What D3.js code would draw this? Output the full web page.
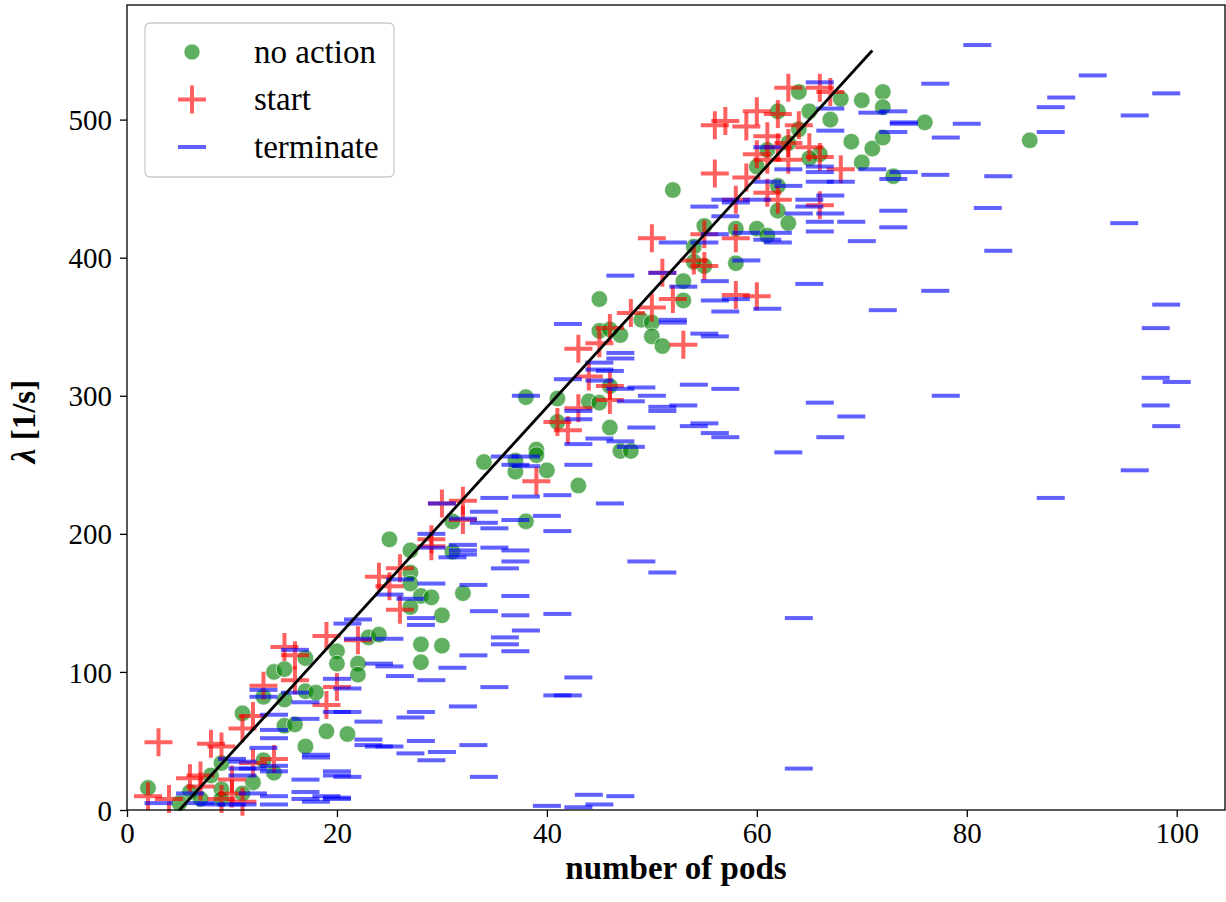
<!DOCTYPE html>
<html>
<head>
<meta charset="utf-8">
<script src="https://cdn.jsdelivr.net/npm/d3@7"></script>
<style>
  body { margin: 0; background: #fff; }
  text { font-family: "Liberation Serif", "Times New Roman", serif; }
</style>
</head>
<body>
<div id="chart"></div>
<script>
// points: [number of pods, lambda]
var noAction = [
    [2,16],[11,70],[14,100],[15,102],[17,110],[20,115],[20,106],[13,82],[15,80],[17,86],[18,85],
    [15,61],[16,62],[19,57],[17,46],[13,36],[14,27],[8,25],[9,34],[12,20],[9,15],[11,12],[6,13],
    [5,5],[7,8],[9,8],[22,106],[22,98],[28,120],[28,107],[30,119],[23,125],[24,127],[21,55],
    [25,196],[27,188],[27,172],[27,164],[28,155],[27,147],[37,245],[40,246],[43,235],[31,209],
    [38,209],[31,187],[29,154],[32,157],[30,141],[45,370],[45,347],[46,348],[47,344],[49,355],
    [50,353],[50,343],[51,336],[46,307],[44,296],[45,295],[41,298],[38,299],[41,281],[46,277],
    [47,260],[48,260],[39,261],[39,257],[34,252],[37,253],[53,383],[53,369],[55,394],[58,396],
    [52,449],[55,423],[58,421],[60,421],[61,416],[54,408],[54,397],[60,466],[62,434],[64,520],
    [68,515],[70,514],[72,520],[72,509],[67,500],[65,506],[62,506],[64,493],[69,484],[71,479],
    [70,469],[73,459],[66,475],[65,472],[63,483],[61,478],[62,452],[63,425],[76,498],[72,487],
    [86,485]
];
var start = [
    [3,49],[2,10],[4,8],[15,118],[16,112],[13,90],[16,94],[19,76],[20,89],[12,68],[11,59],[8,48],
    [9,46],[14,37],[12,34],[7,25],[6,23],[7,17],[10,22],[10,12],[9,8],[11,6],[24,169],[26,175],
    [25,162],[26,145],[19,126],[22,123],[39,238],[30,222],[32,224],[32,210],[29,196],[29,191],
    [48,360],[50,364],[46,349],[43,334],[45,338],[44,314],[46,307],[46,297],[43,291],[41,281],
    [42,275],[58,373],[60,372],[53,337],[52,370],[56,461],[59,458],[58,442],[61,447],[50,414],
    [55,417],[58,414],[54,398],[55,394],[51,389],[63,523],[66,523],[67,520],[56,496],[57,499],
    [59,495],[60,506],[62,504],[64,496],[61,488],[63,483],[62,480],[60,475],[61,471],[63,471],
    [65,480],[66,473],[68,464],[62,442],[66,438]
];
var terminate = [
    [16,116],[20,95],[13,87],[13,82],[16,85],[17,78],[20,71],[17,66],[14,69],[14,58],[14,52],
    [13,45],[18,40],[18,38],[20,28],[17,22],[20,25],[10,37],[11,35],[11,30],[12,30],[11,25],
    [14,32],[14,28],[12,12],[14,10],[17,13],[17,8],[19,10],[20,8],[3,5],[6,12],[7,5],[8,4],
    [10,4],[11,4],[14,4],[18,6],[36,120],[37,115],[33,112],[24,106],[25,104],[31,103],[26,97],
    [29,94],[35,89],[21,88],[41,83],[32,75],[28,71],[27,67],[21,71],[23,64],[23,51],[23,47],
    [24,46],[25,46],[28,50],[33,47],[27,41],[30,42],[29,36],[21,24],[34,24],[20,9],[40,3],
    [43,96],[42,83],[64,30],[44,11],[47,10],[45,4],[43,2],[22,138],[21,135],[25,156],[25,124],
    [26,167],[27,153],[22,124],[35,226],[38,227],[41,228],[46,222],[30,222],[34,216],[40,213],
    [32,211],[34,208],[37,210],[35,204],[41,202],[29,200],[29,190],[32,192],[32,188],[32,185],
    [31,183],[35,190],[37,188],[37,180],[36,175],[29,164],[33,163],[37,155],[34,144],[37,141],
    [41,142],[38,130],[36,125],[28,139],[28,134],[49,180],[51,172],[64,139],[42,352],[47,331],
    [47,327],[45,324],[45,319],[46,318],[42,312],[45,311],[47,305],[49,306],[50,300],[38,300],
    [48,296],[43,289],[43,283],[51,292],[51,289],[49,277],[47,267],[48,263],[43,265],[45,269],
    [36,256],[38,256],[38,249],[43,250],[37,250],[56,383],[65,381],[56,369],[58,370],[57,361],
    [61,363],[72,362],[52,355],[52,353],[55,345],[56,343],[54,308],[57,305],[53,293],[54,278],
    [55,280],[56,273],[57,270],[66,295],[69,285],[67,270],[63,259],[57,442],[58,440],[55,437],
    [57,430],[61,455],[61,413],[52,411],[55,411],[59,398],[51,389],[47,387],[53,379],[66,527],
    [67,508],[67,492],[61,480],[71,505],[73,506],[74,498],[73,491],[71,464],[74,462],[63,464],
    [66,466],[66,462],[63,452],[66,455],[68,455],[67,445],[65,442],[65,437],[60,442],[64,432],
    [67,432],[66,426],[69,426],[66,419],[70,412],[73,434],[73,422],[62,418],[62,411],[59,418],
    [56,417],[81,554],[92,532],[77,526],[99,519],[89,516],[88,509],[96,503],[80,497],[78,487],
    [88,491],[74,497],[73,457],[77,460],[83,459],[82,436],[95,425],[83,405],[77,376],[99,366],
    [98,349],[98,313],[100,310],[98,293],[99,278],[78,300],[88,226],[96,246]
];
// fitted line, two ends
var fitLine = [[5,0],[71,550]];

var xTicks = [0, 20, 40, 60, 80, 100];
var yTicks = [0, 100, 200, 300, 400, 500];
var legendItems = ["no action", "start", "terminate"];

// set the dimensions and margins of the graph
var margin = {top: 5, right: 1, bottom: 92, left: 127};
var width = 1226 - margin.left - margin.right;
var height = 902 - margin.top - margin.bottom;

var svg = d3.select("#chart")
    .append("svg")
    .attr("width", 1226)
    .attr("height", 902)
    .append("g")
    .attr("transform", "translate(" + margin.left + "," + margin.top + ")");

const x = d3.scaleLinear()
    .domain([0, 104.6])
    .range([0, width]);

const y = d3.scaleLinear()
    .domain([0, 583])
    .range([height, 0]);

// markers
svg.append("g").selectAll("circle")
    .data(noAction)
    .enter()
    .append("circle")
    .attr("cx", function(d) { return x(d[0]); })
    .attr("cy", function(d) { return y(d[1]); })
    .attr("r", 8.3)
    .attr("fill", "green")
    .attr("fill-opacity", 0.62)
    .attr("stroke", "#fff")
    .attr("stroke-opacity", 0.62)
    .attr("stroke-width", 1)

svg.append("g").selectAll("path")
    .data(start)
    .enter()
    .append("path")
    .attr("transform", function(d) { return "translate(" + x(d[0]) + "," + y(d[1]) + ")"; })
    .attr("d", "M-14,0H14M0,-14V14")
    .attr("stroke", "red")
    .attr("stroke-width", 4)
    .attr("opacity", 0.62)

svg.append("g").selectAll("rect")
    .data(terminate)
    .enter()
    .append("rect")
    .attr("x", function(d) { return x(d[0]) - 14; })
    .attr("y", function(d) { return y(d[1]) - 2; })
    .attr("width", 28)
    .attr("height", 4)
    .attr("fill", "blue")
    .attr("opacity", 0.62)

// fit line
var lineGenerator = d3.line()
    .x(function(d) { return x(d[0]); })
    .y(function(d) { return y(d[1]); })

svg.append("path")
    .attr("d", lineGenerator(fitLine))
    .attr("fill", "none")
    .attr("stroke", "black")
    .attr("stroke-width", 2.8)

// axes
var xAxis = svg.append("g")
    .attr("transform", "translate(0," + height + ")")
    .call(d3.axisBottom(x).tickValues(xTicks).tickSize(7).tickPadding(5));
var yAxis = svg.append("g")
    .call(d3.axisLeft(y).tickValues(yTicks).tickSize(7).tickPadding(8));
[xAxis, yAxis].forEach(function(a) {
    a.selectAll("text").attr("font-size", 29).attr("fill", "#000")
        .attr("font-family", "Liberation Serif, serif");
    a.selectAll("line").attr("stroke-width", 1.3);
    a.select(".domain").remove();
});
xAxis.selectAll("text").attr("dy", "0.72em");
yAxis.selectAll("text").attr("dy", "0.35em");

// frame
svg.append("rect")
    .attr("width", width)
    .attr("height", height)
    .attr("fill", "none")
    .attr("stroke", "#000")
    .attr("stroke-width", 1.3)

// axis labels
svg.append("text")
    .attr("x", width / 2)
    .attr("y", height + 69)
    .attr("text-anchor", "middle")
    .attr("font-weight", "bold")
    .attr("font-size", 33)
    .text("number of pods")

var yLabel = svg.append("text")
    .attr("transform", "translate(" + (-92) + "," + (height / 2 + 14) + ") rotate(-90)")
    .attr("text-anchor", "middle")
    .attr("font-weight", "bold")
    .attr("font-size", 33)
yLabel.append("tspan").attr("font-style", "italic").text("λ");
yLabel.append("tspan").text(" [1/s]");

// legend
var legend = svg.append("g").attr("transform", "translate(18,18)");
legend.append("rect")
    .attr("width", 249)
    .attr("height", 154)
    .attr("rx", 5)
    .attr("fill", "#fff")
    .attr("fill-opacity", 0.8)
    .attr("stroke", "#ccc")
    .attr("stroke-width", 1.3)

var rows = legend.selectAll("g.row")
    .data(legendItems)
    .enter()
    .append("g")
    .attr("transform", function(d, i) { return "translate(47," + (29 + i * 47.5) + ")"; });

rows.filter(function(d, i) { return i === 0; })
    .append("circle").attr("r", 8).attr("fill", "green").attr("fill-opacity", 0.62)
    .attr("stroke", "#fff").attr("stroke-opacity", 0.62)
rows.filter(function(d, i) { return i === 1; })
    .append("path").attr("d", "M-14,0H14M0,-14V14").attr("stroke", "red")
    .attr("stroke-width", 4).attr("opacity", 0.62)
rows.filter(function(d, i) { return i === 2; })
    .append("rect").attr("x", -14).attr("y", -2).attr("width", 28).attr("height", 4)
    .attr("fill", "blue").attr("opacity", 0.62)

rows.append("text")
    .attr("x", 62)
    .attr("dy", "0.32em")
    .attr("font-size", 33)
    .text(function(d) { return d; })
</script>
</body>
</html>
